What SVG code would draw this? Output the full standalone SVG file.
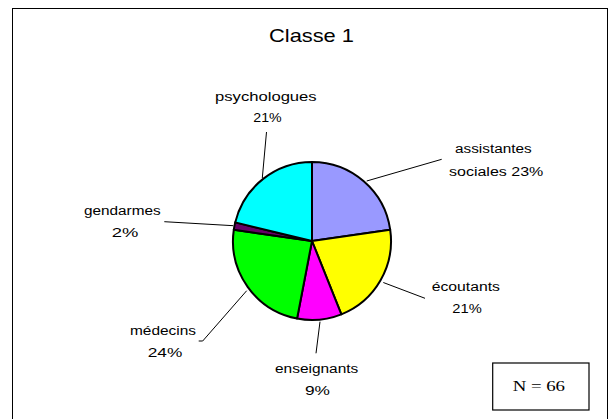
<svg xmlns="http://www.w3.org/2000/svg" width="615" height="419" viewBox="0 0 615 419">
<style>
.lbl{font-family:"Liberation Sans",Arial,sans-serif;font-size:12.5px;fill:#000}
.title{font-family:"Liberation Sans",Arial,sans-serif;font-size:18.5px;fill:#000}
.nt{font-family:"Liberation Serif","Times New Roman",serif;font-size:15px;fill:#000}
.slice{stroke:#000;stroke-width:2;stroke-linejoin:round}
.lead{stroke:#000;stroke-width:1;fill:none}
</style>
<rect x="0" y="0" width="615" height="419" fill="#fff"/>
<rect x="12.5" y="8.5" width="595" height="412" fill="#fff" stroke="#000" stroke-width="1"/>
<text class="title" x="269" y="42.4" textLength="85" lengthAdjust="spacingAndGlyphs">Classe 1</text>
<g id="connectors">
<polyline class="lead" points="266.5,132 262.3,178"/>
<polyline class="lead" points="366.7,181 441.7,159.3"/>
<polyline class="lead" points="383.3,282.5 425,298.3"/>
<polyline class="lead" points="320,321.7 316,353.3"/>
<polyline class="lead" points="246.7,290.7 202.7,341 198.7,341"/>
<polyline class="lead" points="164.3,221.7 233.3,225.7"/>
</g>
<g id="assistantes">
<path class="slice" fill="#9999FF" d="M312,241 L312,162 A79,79 0 0 1 390.20,229.76 Z"/>
<text class="lbl" x="455" y="153" textLength="76.7" lengthAdjust="spacingAndGlyphs">assistantes</text>
<text class="lbl" x="449" y="176" textLength="94.3" lengthAdjust="spacingAndGlyphs">sociales 23%</text>
</g>
<g id="ecoutants">
<path class="slice" fill="#FFFF00" d="M312,241 L390.20,229.76 A79,79 0 0 1 341.36,314.34 Z"/>
<text class="lbl" x="431.7" y="290.7" textLength="68.3" lengthAdjust="spacingAndGlyphs">écoutants</text>
<text class="lbl" x="452.3" y="312.7" textLength="29.4" lengthAdjust="spacingAndGlyphs">21%</text>
</g>
<g id="enseignants">
<path class="slice" fill="#FF00FF" d="M312,241 L341.36,314.34 A79,79 0 0 1 297.05,318.57 Z"/>
<text class="lbl" x="275" y="373.3" textLength="83.3" lengthAdjust="spacingAndGlyphs">enseignants</text>
<text class="lbl" x="305" y="395" textLength="25" lengthAdjust="spacingAndGlyphs">9%</text>
</g>
<g id="medecins">
<path class="slice" fill="#00FF00" d="M312,241 L297.05,318.57 A79,79 0 0 1 233.80,229.76 Z"/>
<text class="lbl" x="130" y="335" textLength="66" lengthAdjust="spacingAndGlyphs">médecins</text>
<text class="lbl" x="147.7" y="356.7" textLength="34.6" lengthAdjust="spacingAndGlyphs">24%</text>
</g>
<g id="gendarmes">
<path class="slice" fill="#660066" d="M312,241 L233.80,229.76 A79,79 0 0 1 235.23,222.38 Z"/>
<text class="lbl" x="84" y="215" textLength="76.7" lengthAdjust="spacingAndGlyphs">gendarmes</text>
<text class="lbl" x="111.7" y="236.7" textLength="26.6" lengthAdjust="spacingAndGlyphs">2%</text>
</g>
<g id="psychologues">
<path class="slice" fill="#00FFFF" d="M312,241 L235.23,222.38 A79,79 0 0 1 312,162 Z"/>
<text class="lbl" x="215" y="101" textLength="101.7" lengthAdjust="spacingAndGlyphs">psychologues</text>
<text class="lbl" x="253.3" y="121.7" textLength="28.4" lengthAdjust="spacingAndGlyphs">21%</text>
</g>
<g id="n-box">
<rect x="492.7" y="363" width="96.3" height="47" fill="#fff" stroke="#000" stroke-width="1.2"/>
<text class="nt" x="512.7" y="391" textLength="52.3" lengthAdjust="spacingAndGlyphs">N = 66</text>
</g>
</svg>
